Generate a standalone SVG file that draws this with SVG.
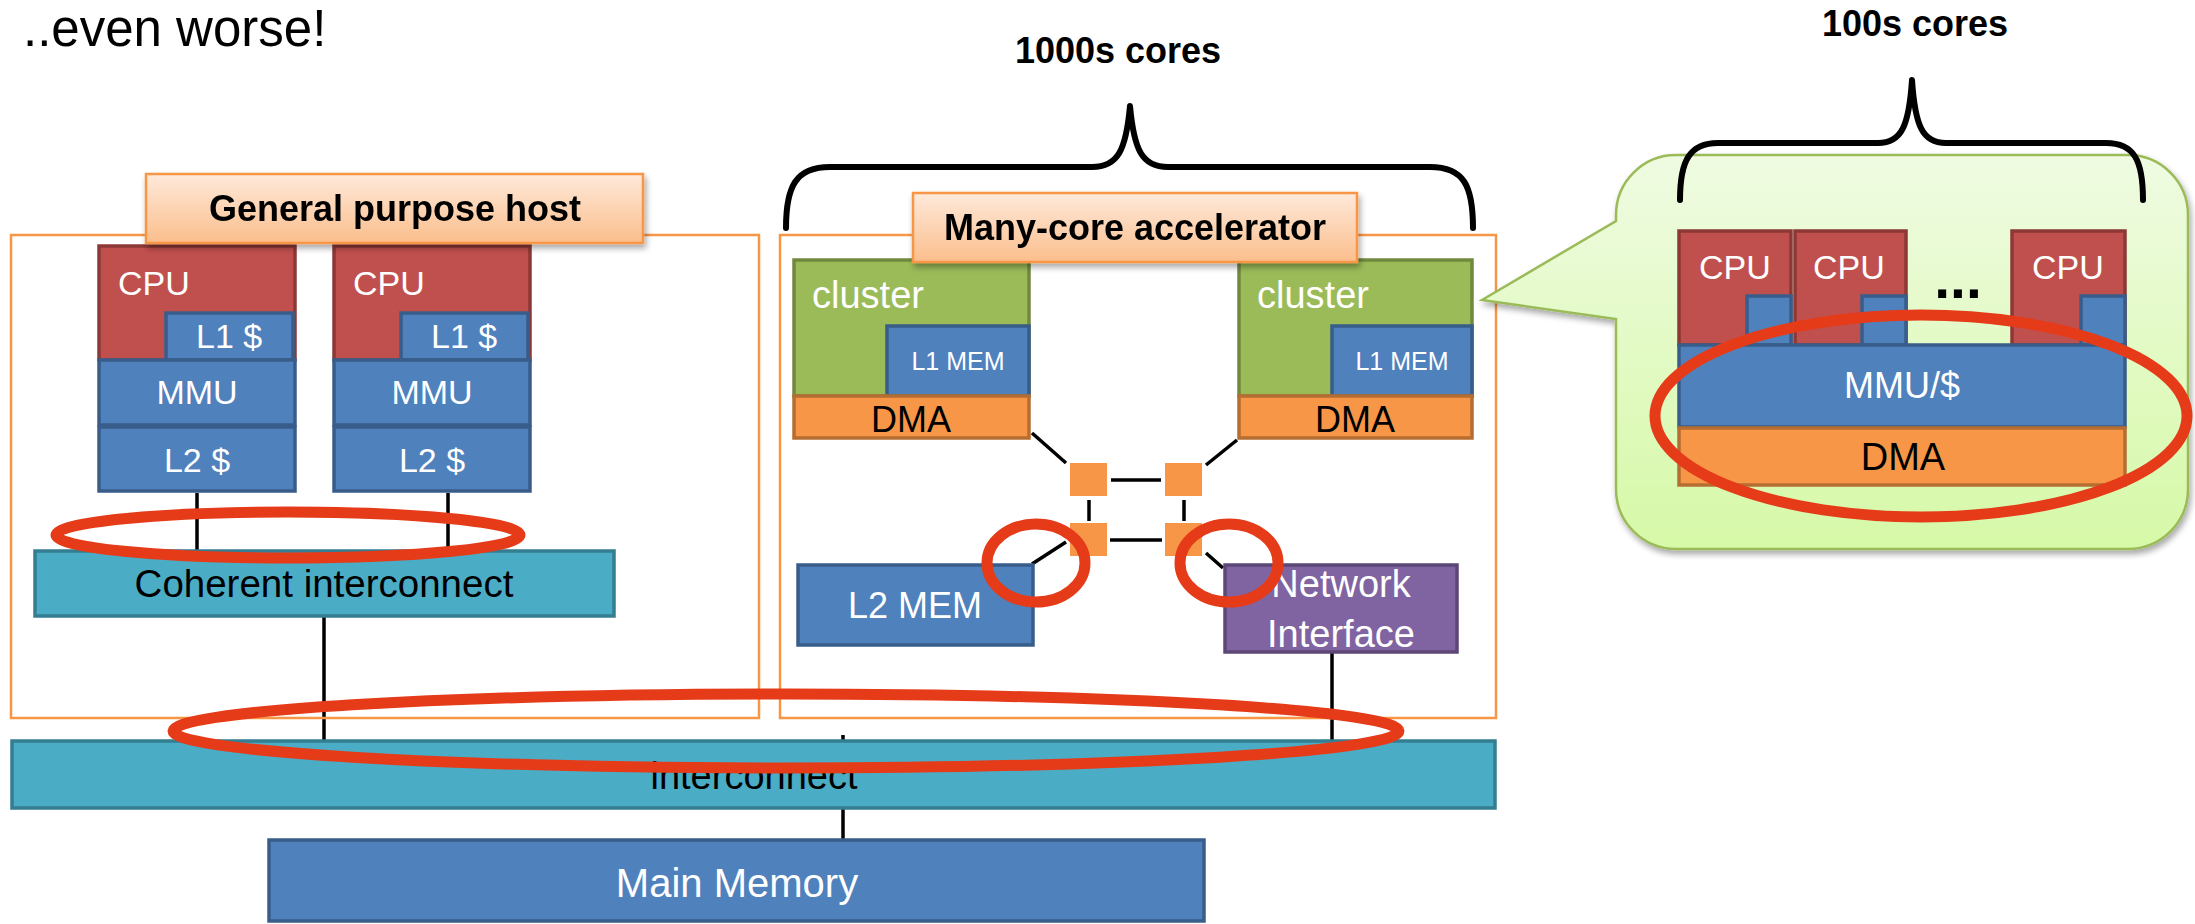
<svg xmlns="http://www.w3.org/2000/svg" width="2195" height="924" viewBox="0 0 2195 924">
  <defs>
    <linearGradient id="labelFill" x1="0" y1="0" x2="0" y2="1">
      <stop offset="0" stop-color="#FEE9DA"/>
      <stop offset="1" stop-color="#FBBE8C"/>
    </linearGradient>
    <linearGradient id="bubbleFill" x1="0" y1="0" x2="0" y2="1">
      <stop offset="0" stop-color="#EFFBE2"/>
      <stop offset="1" stop-color="#D6F9A7"/>
    </linearGradient>
    <filter id="shadow" x="-10%" y="-10%" width="120%" height="130%">
      <feGaussianBlur in="SourceAlpha" stdDeviation="3"/>
      <feOffset dx="2" dy="4" result="b"/>
      <feComponentTransfer><feFuncA type="linear" slope="0.35"/></feComponentTransfer>
      <feMerge><feMergeNode/><feMergeNode in="SourceGraphic"/></feMerge>
    </filter>
  </defs>
  <style>
    text { font-family: "Liberation Sans", Arial, sans-serif; }
    .frame { fill: none; stroke: #F79646; stroke-width: 2.5; }
    .label { fill: url(#labelFill); stroke: #F79646; stroke-width: 2.5; }
    .cpu { fill: #C0504D; stroke: #8C3836; stroke-width: 3.5; }
    .mem { fill: #4F81BD; stroke: #385D8A; stroke-width: 3.5; }
    .bus { fill: #4BACC6; stroke: #357D91; stroke-width: 3.5; }
    .cluster { fill: #9BBB59; stroke: #71893F; stroke-width: 3.5; }
    .dma { fill: #F79646; stroke: #B66D31; stroke-width: 3.5; }
    .ni { fill: #8064A2; stroke: #5C4776; stroke-width: 3.5; }
    .router { fill: #F79646; }
    .wire { stroke: #000; stroke-width: 3.5; fill: none; }
    .brace { stroke: #000; stroke-width: 6; fill: none; stroke-linecap: round; stroke-linejoin: round; }
    .mark { fill: none; stroke: #E63B19; stroke-width: 11; }
    .w { fill: #FFFFFF; }
    .k { fill: #000000; }
    .bold { font-weight: bold; }
  </style>

  <!-- heading -->
  <text x="23" y="46" font-size="51" class="k">..even worse!</text>

  <!-- connectors -->
  <g id="connectors">
    <line class="wire" x1="197" y1="493" x2="197" y2="550"/>
    <line class="wire" x1="448" y1="493" x2="448" y2="550"/>
    <line class="wire" x1="324" y1="617" x2="324" y2="741"/>
    <line class="wire" x1="843" y1="735" x2="843" y2="840"/>
    <line class="wire" x1="1332" y1="652" x2="1332" y2="741"/>
    <line class="wire" x1="1032" y1="433" x2="1066" y2="463"/>
    <line class="wire" x1="1237" y1="440" x2="1206" y2="465"/>
    <line class="wire" x1="1066" y1="542" x2="1032" y2="564"/>
    <line class="wire" x1="1206" y1="553" x2="1223" y2="568"/>
    <line class="wire" x1="1111" y1="480" x2="1161" y2="480"/>
    <line class="wire" x1="1110" y1="540" x2="1162" y2="540"/>
    <line class="wire" x1="1089" y1="500" x2="1089" y2="521"/>
    <line class="wire" x1="1184" y1="500" x2="1184" y2="521"/>
  </g>

  <!-- general purpose host -->
  <g id="host">
    <rect class="frame" x="11" y="235" width="748" height="483"/>
  </g>
  <g id="host-cpu0">
    <rect class="cpu" x="99" y="246" width="196" height="114"/>
    <rect class="mem" x="166" y="313" width="127" height="47"/>
    <rect class="mem" x="99" y="360" width="196" height="65"/>
    <rect class="mem" x="99" y="427" width="196" height="64"/>
    <text x="118" y="295" font-size="34" class="w">CPU</text>
    <text x="196" y="348" font-size="34" class="w">L1 $</text>
    <text x="197" y="404" font-size="34" class="w" text-anchor="middle">MMU</text>
    <text x="197" y="472" font-size="34" class="w" text-anchor="middle">L2 $</text>
  </g>
  <g id="host-cpu1">
    <rect class="cpu" x="334" y="246" width="196" height="114"/>
    <rect class="mem" x="401" y="313" width="127" height="47"/>
    <rect class="mem" x="334" y="360" width="196" height="65"/>
    <rect class="mem" x="334" y="427" width="196" height="64"/>
    <text x="353" y="295" font-size="34" class="w">CPU</text>
    <text x="431" y="348" font-size="34" class="w">L1 $</text>
    <text x="432" y="404" font-size="34" class="w" text-anchor="middle">MMU</text>
    <text x="432" y="472" font-size="34" class="w" text-anchor="middle">L2 $</text>
  </g>
  <g id="host-label" filter="url(#shadow)">
    <rect class="label" x="146" y="174" width="497" height="69"/>
    <text x="395" y="221" font-size="36" class="k bold" text-anchor="middle">General purpose host</text>
  </g>
  <g id="coherent-interconnect">
    <rect class="bus" x="35" y="551" width="579" height="65"/>
    <text x="324" y="597" font-size="38.5" class="k" text-anchor="middle">Coherent interconnect</text>
  </g>

  <!-- many-core accelerator -->
  <g id="accelerator">
    <rect class="frame" x="780" y="235" width="716" height="483"/>
  </g>
  <g id="cluster-left">
    <rect class="cluster" x="794" y="260" width="235" height="136"/>
    <rect class="mem" x="887" y="326" width="142" height="70"/>
    <rect class="dma" x="794" y="396" width="235" height="42"/>
    <text x="812" y="308" font-size="38" class="w">cluster</text>
    <text x="958" y="370" font-size="25" class="w" text-anchor="middle">L1 MEM</text>
    <text x="911" y="432" font-size="36" class="k" text-anchor="middle">DMA</text>
  </g>
  <g id="cluster-right">
    <rect class="cluster" x="1239" y="260" width="233" height="136"/>
    <rect class="mem" x="1332" y="326" width="140" height="70"/>
    <rect class="dma" x="1239" y="396" width="233" height="42"/>
    <text x="1257" y="308" font-size="38" class="w">cluster</text>
    <text x="1402" y="370" font-size="25" class="w" text-anchor="middle">L1 MEM</text>
    <text x="1355" y="432" font-size="36" class="k" text-anchor="middle">DMA</text>
  </g>
  <g id="noc">
    <rect class="router" x="1070" y="463" width="37" height="33"/>
    <rect class="router" x="1165" y="463" width="37" height="33"/>
    <rect class="router" x="1070" y="523" width="37" height="33"/>
    <rect class="router" x="1165" y="523" width="37" height="33"/>
  </g>
  <g id="l2-mem">
    <rect class="mem" x="798" y="565" width="235" height="80"/>
    <text x="915" y="618" font-size="36" class="w" text-anchor="middle">L2 MEM</text>
  </g>
  <g id="network-interface">
    <rect class="ni" x="1225" y="565" width="232" height="87"/>
    <text x="1341" y="597" font-size="38" class="w" text-anchor="middle">Network</text>
    <text x="1341" y="647" font-size="38" class="w" text-anchor="middle">Interface</text>
  </g>
  <g id="accelerator-label" filter="url(#shadow)">
    <rect class="label" x="913" y="193" width="444" height="69"/>
    <text x="1135" y="240" font-size="36" class="k bold" text-anchor="middle">Many-core accelerator</text>
  </g>
  <g id="brace-1000s">
    <path class="brace" d="M786,228 C786,186 796,167 830,167 L1092,167 C1118,167 1126,150 1130,106 C1134,150 1142,167 1168,167 L1430,167 C1464,167 1473,186 1473,228"/>
    <text x="1118" y="63" font-size="36" class="k bold" text-anchor="middle">1000s cores</text>
  </g>

  <!-- system level -->
  <g id="interconnect">
    <rect class="bus" x="12" y="741" width="1483" height="67"/>
    <text x="754" y="789" font-size="38" class="k" text-anchor="middle">interconnect</text>
  </g>
  <g id="main-memory">
    <rect class="mem" x="269" y="840" width="935" height="81"/>
    <text x="737" y="897" font-size="40" class="w" text-anchor="middle">Main Memory</text>
  </g>

  <!-- cluster detail callout -->
  <g id="callout" filter="url(#shadow)">
    <path d="M1676,155 H2128 A60,60 0 0 1 2188,215 V489 A60,60 0 0 1 2128,549 H1676 A60,60 0 0 1 1616,489 V319 L1482,300 L1616,221 V215 A60,60 0 0 1 1676,155 Z" fill="url(#bubbleFill)" stroke="#9BBB59" stroke-width="2.5"/>
  </g>
  <g id="callout-cores">
    <rect class="cpu" x="1679" y="231" width="112" height="114"/>
    <rect class="cpu" x="1795" y="231" width="111" height="114"/>
    <rect class="cpu" x="2012" y="231" width="113" height="114"/>
    <rect class="mem" x="1747" y="296" width="44" height="49"/>
    <rect class="mem" x="1862" y="296" width="44" height="49"/>
    <rect class="mem" x="2081" y="296" width="44" height="49"/>
    <rect class="mem" x="1679" y="345" width="446" height="82"/>
    <rect class="dma" x="1679" y="428" width="446" height="57"/>
    <text x="1699" y="279" font-size="34" class="w">CPU</text>
    <text x="1813" y="279" font-size="34" class="w">CPU</text>
    <text x="2032" y="279" font-size="34" class="w">CPU</text>
    <text x="1958" y="298" font-size="57" class="k bold" text-anchor="middle">...</text>
    <text x="1902" y="398" font-size="36" class="w" text-anchor="middle">MMU/$</text>
    <text x="1903" y="470" font-size="38" class="k" text-anchor="middle">DMA</text>
  </g>
  <g id="brace-100s">
    <path class="brace" d="M1680,200 C1680,160 1690,143 1718,143 L1878,143 C1902,143 1909,125 1912,80 C1915,125 1922,143 1946,143 L2106,143 C2134,143 2143,160 2143,200"/>
    <text x="1915" y="36" font-size="36" class="k bold" text-anchor="middle">100s cores</text>
  </g>

  <!-- highlighted trouble spots -->
  <g id="highlights">
    <ellipse class="mark" cx="288" cy="535" rx="232" ry="23"/>
    <ellipse class="mark" cx="786" cy="731" rx="613" ry="37"/>
    <ellipse class="mark" cx="1036" cy="563" rx="49" ry="39"/>
    <ellipse class="mark" cx="1229" cy="563" rx="49" ry="39"/>
    <ellipse class="mark" cx="1921" cy="416" rx="266" ry="101"/>
  </g>
</svg>
